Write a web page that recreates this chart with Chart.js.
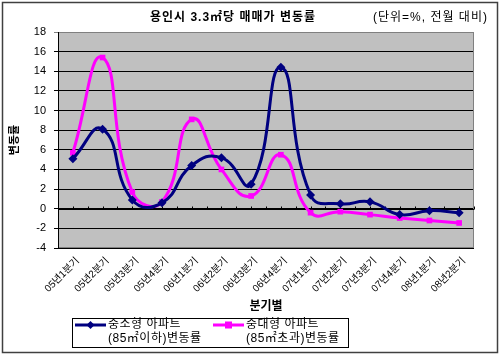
<!DOCTYPE html>
<html>
<head>
<meta charset="utf-8">
<script src="https://cdn.jsdelivr.net/npm/chart.js@4/dist/chart.umd.min.js"></script>
<style>
html,body{margin:0;padding:0;background:#fff;}
#wrap{width:500px;height:355px;position:relative;}
</style>
</head>
<body>
<div id="wrap"><canvas id="c" width="500" height="355"></canvas></div>
<script>
const chartTitle = '용인시 3.3㎡당 매매가 변동률';
const unitNote = '(단위=%, 전월 대비)';
const categories = ['05년1분기','05년2분기','05년3분기','05년4분기','06년1분기','06년2분기','06년3분기','06년4분기','07년1분기','07년2분기','07년3분기','07년4분기','08년1분기','08년2분기'];
const smallAptLabel = ['중소형 아파트', '(85㎡이하)변동률'];
const largeAptLabel = ['중대형 아파트', '(85㎡초과)변동률'];
const smallApt = [5.1, 8.1, 0.9, 0.6, 4.4, 5.2, 2.5, 14.4, 1.4, 0.5, 0.7, -0.6, -0.2, -0.4];
const largeApt = [5.7, 15.4, 1.7, 0.7, 9.1, 4.0, 1.3, 5.5, -0.4, -0.3, -0.6, -0.95, -1.2, -1.45];
const yTicks = {min: -4, max: 18, step: 2};
const xTitle = '분기별';
const yTitle = '변동률';

const FONT = '"Liberation Sans", "Noto Sans CJK KR", sans-serif';

const decor = {
  id: 'decor',
  beforeDraw(chart) {
    const {ctx, chartArea: a} = chart;
    ctx.save();
    ctx.fillStyle = '#fff';
    ctx.fillRect(0, 0, chart.width, chart.height);
    ctx.fillStyle = '#c0c0c0';
    ctx.fillRect(a.left, a.top, a.right - a.left, a.bottom - a.top);
    ctx.restore();
  },
  beforeDatasetsDraw(chart) {
    const {ctx, chartArea: a, scales} = chart;
    ctx.save();
    ctx.strokeStyle = '#808080';
    ctx.lineWidth = 1;
    ctx.strokeRect(a.left + 0.5, a.top + 0.5, a.right - a.left - 1, a.bottom - a.top - 1);
    const y0 = Math.round(scales.y.getPixelForValue(0)) + 0.5;
    ctx.strokeStyle = '#000';
    ctx.beginPath();
    ctx.moveTo(a.left, y0); ctx.lineTo(a.right, y0);
    const n = categories.length;
    for (let i = -0.5; i <= n - 0.5; i += 0.5) {
      const x = Math.round(scales.x.getPixelForValue(i)) + 0.5;
      ctx.moveTo(x, y0); ctx.lineTo(x, y0 - 3);
    }
    ctx.stroke();
    ctx.beginPath();
    ctx.moveTo(a.left + 0.5, a.top); ctx.lineTo(a.left + 0.5, a.bottom);
    ctx.stroke();
    ctx.restore();
  },
  afterDraw(chart) {
    const {ctx} = chart;
    ctx.save();
    ctx.strokeStyle = '#404040';
    ctx.lineWidth = 1.5;
    ctx.strokeRect(2.5, 2.5, 495, 350);
    ctx.fillStyle = '#000';
    ctx.textBaseline = 'middle';
    ctx.textAlign = 'center';
    ctx.letterSpacing = '1px';
    ctx.font = 'bold 12px ' + FONT;
    ctx.fillText(chartTitle, 233, 18);
    ctx.font = '12px ' + FONT;
    ctx.textAlign = 'left';
    ctx.fillText(unitNote, 373, 18);
    ctx.lineWidth = 1;
    ctx.strokeStyle = '#000';
    ctx.letterSpacing = '0px';
    ctx.strokeRect(72.5, 318.5, 276, 29);
    const items = [
      {ds: chart.data.datasets[0], x: 75, lbl: smallAptLabel},
      {ds: chart.data.datasets[1], x: 213, lbl: largeAptLabel}
    ];
    items.forEach(it => {
      const ly = 325;
      ctx.strokeStyle = it.ds.borderColor;
      ctx.lineWidth = 3;
      ctx.beginPath();
      ctx.moveTo(it.x, ly); ctx.lineTo(it.x + 31, ly);
      ctx.stroke();
      ctx.fillStyle = it.ds.backgroundColor;
      const cx = it.x + 15.5;
      if (it.ds.pointStyle === 'rectRot') {
        ctx.beginPath();
        ctx.moveTo(cx, ly - 4); ctx.lineTo(cx + 4, ly); ctx.lineTo(cx, ly + 4); ctx.lineTo(cx - 4, ly);
        ctx.closePath(); ctx.fill();
      } else {
        ctx.fillRect(cx - 3.5, ly - 3.5, 7, 7);
      }
      ctx.fillStyle = '#000';
      ctx.font = '12px ' + FONT;
      ctx.letterSpacing = '0.5px';
      ctx.textAlign = 'left';
      ctx.fillText(it.lbl[0], it.x + 33, ly);
      ctx.fillText(it.lbl[1], it.x + 33, ly + 14);
      ctx.letterSpacing = '0px';
    });
    ctx.restore();
  }
};

new Chart(document.getElementById('c'), {
  type: 'line',
  data: {
    labels: categories,
    datasets: [
      {
        label: smallAptLabel.join(' '),
        data: smallApt,
        borderColor: '#000080',
        backgroundColor: '#000080',
        borderWidth: 3,
        pointStyle: 'rectRot',
        pointRadius: 4.5,
        pointBorderWidth: 0,
        tension: 0.5
      },
      {
        label: largeAptLabel.join(' '),
        data: largeApt,
        borderColor: '#ff00ff',
        backgroundColor: '#ff00ff',
        borderWidth: 3,
        pointStyle: 'rect',
        pointRadius: 4,
        pointBorderWidth: 0,
        tension: 0.5
      }
    ]
  },
  options: {
    responsive: false,
    animation: false,
    devicePixelRatio: 1,
    layout: {padding: {left: 8, right: 26, top: 32, bottom: 40}},
    plugins: {
      legend: {display: false},
      title: {display: false},
      tooltip: {enabled: false}
    },
    scales: {
      x: {
        type: 'category',
        offset: true,
        grid: {display: false, drawTicks: false},
        border: {display: false},
        ticks: {
          minRotation: 45, maxRotation: 45, autoSkip: false,
          color: '#000', padding: 7, labelOffset: 5,
          font: {family: FONT, size: 10}
        },
        title: {display: true, text: xTitle, color: '#000', padding: {top: 0, bottom: 1},
          font: {family: FONT, size: 12, weight: 'bold'}},
        afterFit(s) { s.height = 67; }
      },
      y: {
        min: yTicks.min, max: yTicks.max,
        grid: {
          color: (c) => (c.tick && c.tick.value === yTicks.max) ? '#808080' : '#000',
          lineWidth: 1, tickLength: 4, drawTicks: true
        },
        border: {display: false},
        ticks: {stepSize: yTicks.step, color: '#000', padding: 8,
          font: {family: FONT, size: 11}},
        title: {display: true, text: yTitle, color: '#000', padding: {top: 0, bottom: 0},
          font: {family: FONT, size: 11, weight: 'bold'}},
        afterFit(s) { s.width = 50; }
      }
    }
  },
  plugins: [decor]
});
</script>
</body>
</html>
